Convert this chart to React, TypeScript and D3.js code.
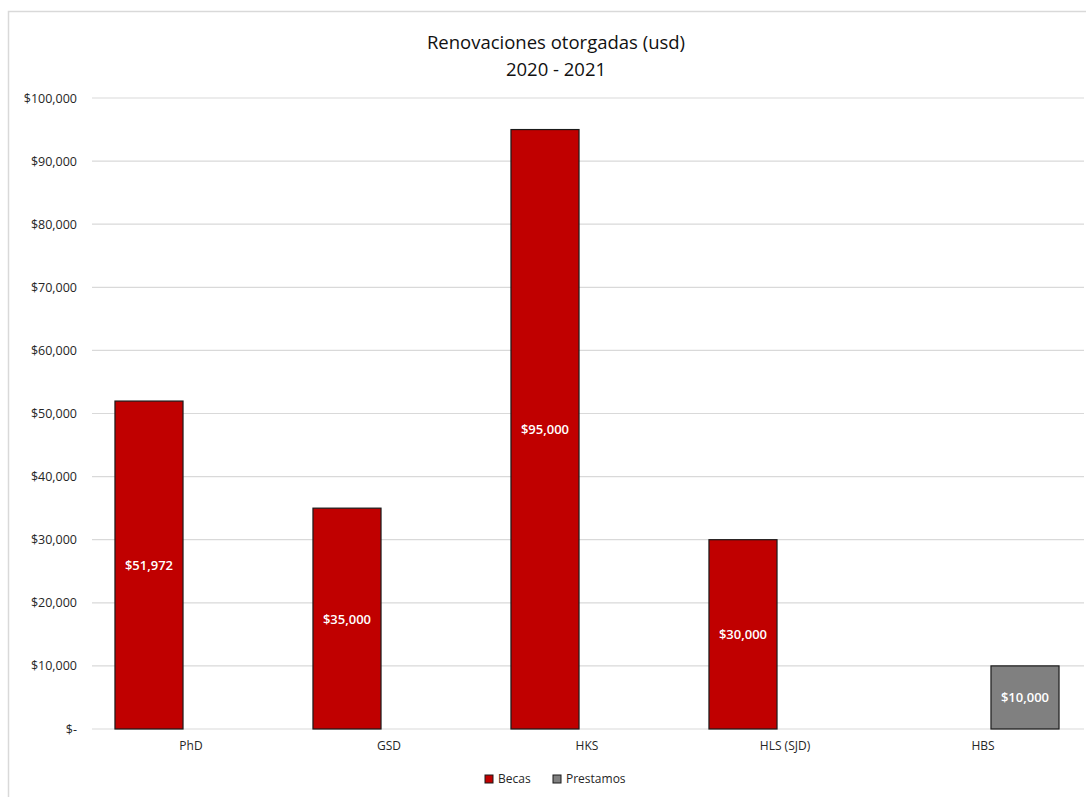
import React from "react";
import * as d3 from "d3";

const categories = ["PhD", "GSD", "HKS", "HLS (SJD)", "HBS"];
const seriesNames = ["Becas", "Prestamos"];
const becas: (number | null)[] = [51972, 35000, 95000, 30000, null];
const prestamos: (number | null)[] = [null, null, null, null, 10000];
const seriesColors = ["#C00000", "#808080"];
const yTicks = [0, 10000, 20000, 30000, 40000, 50000, 60000, 70000, 80000, 90000, 100000];
const titleLines = ["Renovaciones otorgadas (usd)", "2020 - 2021"];

const W = 1086;
const H = 797;
const FONT = "'Open Sans', 'Liberation Sans', sans-serif";

export default function App() {
  const x0 = d3.scaleBand<string>().domain(categories).range([92, 1082]).paddingInner(0.232).paddingOuter(0.116);
  const x1 = d3.scaleBand<string>().domain(seriesNames).range([0, x0.bandwidth()]).paddingInner(0.19).paddingOuter(0);
  const y = d3.scaleLinear().domain([0, 100000]).range([729, 98]);
  const fmt = (v: number) => (v === 0 ? "$-" : "$" + d3.format(",")(v));
  const seriesData = [becas, prestamos];

  return (
    <svg width={W} height={H} style={{ position: "absolute", left: 0, top: 0, background: "#fff" }} fontFamily={FONT}>
      <rect x={0} y={0} width={W} height={H} fill="#fff" />
      <rect x={8.5} y={11.5} width={1200} height={900} fill="#fff" stroke="#d9d9d9" strokeWidth={1.5} />
      {titleLines.map((t, i) => (
        <text key={t} x={556} y={49 + i * 27} textAnchor="middle" fontSize={18.5} fill="#111">
          {t}
        </text>
      ))}
      {yTicks.map((t) => (
        <g key={t}>
          <line x1={92} x2={1084} y1={y(t)} y2={y(t)} stroke="#d9d9d9" strokeWidth={1.2} />
          <text x={77} y={y(t) + 4.5} textAnchor="end" fontSize={12.5} fill="#262626">
            {fmt(t)}
          </text>
        </g>
      ))}
      {categories.map((c) => (
        <text key={c} x={(x0(c) as number) + x0.bandwidth() / 2} y={750} textAnchor="middle" fontSize={12} fill="#262626">
          {c}
        </text>
      ))}
      {seriesData.map((vals, si) =>
        vals.map((v, ci) => {
          if (v == null) return null;
          const bx = (x0(categories[ci]) as number) + (x1(seriesNames[si]) as number);
          const by = y(v);
          const bh = y(0) - by;
          return (
            <g key={si + "-" + ci}>
              <rect x={bx} y={by} width={x1.bandwidth()} height={bh} fill={seriesColors[si]} stroke="#1a1a1a" strokeWidth={1.2} />
              <text x={bx + x1.bandwidth() / 2} y={by + bh / 2 + 5} textAnchor="middle" fontSize={13} fontWeight={600} fill="#fff">
                {fmt(v)}
              </text>
            </g>
          );
        })
      )}
      <g>
        <rect x={485} y={775} width={8} height={8} fill={seriesColors[0]} stroke="#1a1a1a" strokeWidth={1} />
        <text x={498} y={783} fontSize={12} fill="#262626">{seriesNames[0]}</text>
        <rect x={553} y={775} width={8} height={8} fill={seriesColors[1]} stroke="#1a1a1a" strokeWidth={1} />
        <text x={566} y={783} fontSize={12} fill="#262626">{seriesNames[1]}</text>
      </g>
    </svg>
  );
}
